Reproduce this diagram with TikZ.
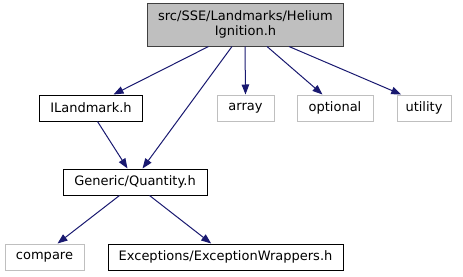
\documentclass[tikz,border=0pt]{standalone}
\usepackage{fontspec}
\setmainfont{DejaVu Sans}
\usetikzlibrary{arrows.meta}
\definecolor{edgeblue}{HTML}{191970}
\definecolor{extgray}{HTML}{BFBFBF}
\definecolor{rootborder}{HTML}{404040}
\begin{document}
\begin{tikzpicture}[x=1pt,y=-1pt,
  every node/.style={font=\fontsize{13}{15}\selectfont, inner sep=0pt, anchor=center},
  filebox/.style={draw=black, line width=1pt, minimum height=26pt},
  extbox/.style={draw=extgray, line width=1pt, minimum height=26pt},
  rootbox/.style={draw=rootborder, fill=extgray, line width=1pt, minimum width=196pt, minimum height=43pt, align=center},
  dep/.style={draw=edgeblue, line width=1pt, -{Triangle[length=10pt,width=7.5pt]}}]
\useasboundingbox (0,0) rectangle (463,276);

% header and its includes
\node[rootbox] (root) at (245.5,24.5) {src/SSE/Landmarks/Helium\\Ignition.h};
\node[filebox, minimum width=103pt] (ilm) at (91,108) {ILandmark.h};
\node[extbox, minimum width=57pt] (array) at (245.5,108) {array};
\node[extbox, minimum width=76pt] (optional) at (335,108) {optional};
\node[extbox, minimum width=54pt] (utility) at (424,108) {utility};
\node[filebox, minimum width=144pt] (qty) at (135,182) {Generic/Quantity.h};
\node[extbox, minimum width=79pt] (compare) at (44.5,257) {compare};
\node[filebox, minimum width=235pt] (exc) at (225.5,257) {Exceptions/ExceptionWrappers.h};

% include edges
\draw[dep] ([xshift=61.5pt]root.south west) -- ([xshift=74.5pt]ilm.north west);
\draw[dep] ([xshift=85pt]root.south west) -- ([xshift=80pt]qty.north west);
\draw[dep] ([xshift=98pt]root.south west) -- (array.north);
\draw[dep] ([xshift=120pt]root.south west) -- ([xshift=26pt]optional.north west);
\draw[dep] ([xshift=142pt]root.south west) -- ([xshift=4.7pt]utility.north west);
\draw[dep] ([xshift=58.5pt]ilm.south west) -- ([xshift=65pt]qty.north west);
\draw[dep] ([xshift=57pt]qty.south west) -- ([xshift=53pt]compare.north west);
\draw[dep] ([xshift=87pt]qty.south west) -- ([xshift=103.7pt]exc.north west);
\end{tikzpicture}
\end{document}
